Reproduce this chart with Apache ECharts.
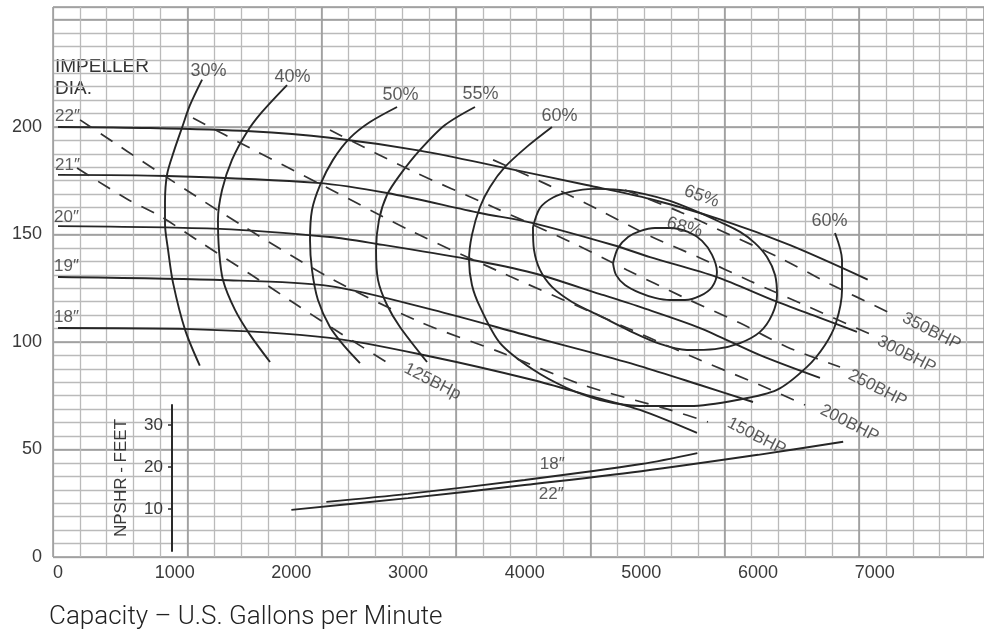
<!DOCTYPE html>
<html><head><meta charset="utf-8">
<script src="https://cdn.jsdelivr.net/npm/echarts@6/dist/echarts.min.js"></script>
<style>html,body{margin:0;padding:0;background:#fff}#c{width:984px;height:633px}</style>
</head><body><div id="c"></div>
<script>
// ---- tick labels ----
const xTicks = [0,1000,2000,3000,4000,5000,6000,7000];
const yTicks = [0,50,100,150,200];
const npshTicks = [10,20,30];

// ---- head-capacity curves by impeller diameter [gpm, ft] ----
const hq22 = [[0,200],[790,199.5],[1650,198],[2330,195],[3100,189],[3830,181],[4530,173],[5075,166.5],[5675,157],[6275,145],[6940,129]];
const hq21 = [[0,177.7],[934,177.2],[2220,174],[2820,169.3],[3617,160],[4071,155.3],[4757,145.1],[5074,139.5],[5648,130.2],[6128,119.5],[6531,111.2],[6848,104.7]];
const hq20 = [[0,153.9],[1389,152.6],[2331,148.8],[2734,145.6],[3506,138.6],[4071,132.1],[4646,122.3],[4988,116.3],[5503,106.5],[6017,93.9],[6531,83.3]];
const hq19 = [[0,130.2],[1389,128.8],[2331,126],[3214,114.9],[4071,102.3],[4560,95.3],[4988,88.8],[5503,80],[5957,72.1]];
const hq18 = [[0,106.5],[1131,106],[2331,101.9],[3214,93],[4071,82.3],[4560,74.9],[4988,68.4],[5477,57.7]];
const diaLabels = ['22\u2033','21\u2033','20\u2033','19\u2033','18\u2033'];

// ---- efficiency curves [gpm, ft] ----
const eff30 = [[1235,222],[1130,210],[1065,200],[995,189],[935,178],[917,165],[917,155],[943,143],[986,127.5],[1090,105.5],[1215,89]];
const eff40 = [[1963,219.5],[1749,207],[1620,197.7],[1491,184.7],[1406,170.7],[1371,156.7],[1380,142.8],[1414,128.8],[1517,114.9],[1646,103.3],[1817,90.7]];
const eff50 = [[2906,209.3],[2674,202.3],[2503,194.9],[2357,184.7],[2246,173],[2177,161.4],[2160,147.4],[2177,133.5],[2228,119.5],[2331,107],[2460,97.7],[2588,90.2]];
const eff55 = [[3574,209.3],[3317,200.9],[3103,189.3],[2931,177.7],[2820,168.4],[2751,156.7],[2726,142.8],[2743,128.8],[2820,117.2],[2931,107],[3163,90.7]];
const eff60 = [[4234,200],[4028,191.2],[3831,181.4],[3703,172.1],[3617,162.8],[3548,149.8],[3523,138.1],[3548,126.5],[3617,116.3],[3789,99.5],[4071,87.2],[4363,78.6],[4646,73],[4988,70.2],[5417,70.2],[5820,73],[6162,77.7],[6420,88.4],[6574,98.6],[6668,108.8],[6720,124.2],[6720,138.1],[6660,150.7]];
const eff65 = [[4071,153.5],[4131,162.3],[4243,167.2],[4388,169.8],[4585,171.2],[4817,170.7],[5031,168.8],[5246,165.6],[5443,161.4],[5674,155.8],[5846,151.2],[5974,146],[6077,139.5],[6146,131.2],[6163,121.9],[6120,112.6],[6017,104.7],[5846,99.5],[5631,96.7],[5391,96.3],[5160,99.1],[4903,105.1],[4646,112.1],[4406,118.6],[4234,125.6],[4131,133.5],[4080,142.8],[4071,153.5]];
const eff68 = [[4757,136.7],[4800,143.7],[4886,148.8],[4988,151.6],[5117,153],[5246,153],[5400,151.2],[5520,147],[5606,140.5],[5648,132.6],[5606,125.6],[5503,121.4],[5374,119.5],[5246,119.5],[5117,120.5],[4988,122.8],[4860,126.5],[4783,131.2],[4757,136.7]];

// ---- brake horsepower lines [gpm, ft] ----
const bhp125 = [[163,180.9],[591,166.5],[874,158.6],[1217,146.5],[1646,131.6],[2074,116.3],[2417,104.2],[2871,88.8]];
const bhp150 = [[189,203.3],[900,177.7],[1586,153.9],[2331,129.8],[3103,109.3],[3789,95.3],[4500,80],[5246,68.4],[5571,62.8]];
const bhp200 = [[1157,204.2],[1646,190.2],[2246,173.5],[3043,151.2],[3789,132.6],[4646,112.1],[5503,91.6],[6017,80],[6403,70.7]];
const bhp250 = [[2331,198.6],[3017,180],[3729,162.8],[4414,146],[4877,133.5],[5357,120.9],[5846,108.8],[6248,97.7],[6703,88.4]];
const bhp300 = [[3729,184.7],[4217,172.6],[4620,161.9],[5074,149.3],[5503,139.1],[5931,128.4],[6360,118.1],[6960,103.7]];
const bhp350 = [[4860,170.7],[5331,160.5],[5760,149.8],[6188,139.1],[6617,127],[7131,113.5]];
const bhpLabels = ['125BHp','150BHP','200BHP','250BHP','300BHP','350BHP'];

// ---- NPSHR curves [gpm, ft] ----
const npsh18 = [[2300,11.7],[3000,13.6],[4000,16.9],[5000,20.7],[5480,23.3]];
const npsh22 = [[2000,9.8],[3000,12.6],[4000,15.7],[5000,19.0],[6000,22.9],[6730,26.0]];

// ================= chart =================
const FONT = 'Liberation Sans';
const TXT = '#333';
const chart = echarts.init(document.getElementById('c'), null, {renderer:'canvas'});

function curve(data, dashed) {
  return {
    type:'line', data, showSymbol:false, smooth:0.3, silent:true, z:3,
    xAxisIndex:0, yAxisIndex:0,
    lineStyle: dashed ? {color:'#333', width:1.7, type:[14,11]} : {color:'#262626', width:1.9}
  };
}
function lab(pt, text, dx, dy, rot, size) {
  return {value: pt, label:{show:true, formatter:text, position:[dx,dy], align:'center', verticalAlign:'middle', rotate: rot || 0, fontSize: size || 18}};
}

const hqs = [hq22, hq21, hq20, hq19, hq18];
const bhps = [bhp125, bhp150, bhp200, bhp250, bhp300, bhp350];
const bhpOff = [[40,16],[49,15],[45,19],[38,22],[37,21],[42,19]];
const diaOff = [[10,-10],[10,-9],[9,-8],[9,-10],[9,-10]];

const annot = [];
hqs.forEach((d,i)=>annot.push(lab(d[0], diaLabels[i], diaOff[i][0], diaOff[i][1], 0, 17)));
annot.push(lab(eff30[0], '30%', 7, -8));
annot.push(lab(eff40[0], '40%', 6, -8));
annot.push(lab(eff50[0], '50%', 4, -11));
annot.push(lab(eff55[0], '55%', 6, -12));
annot.push(lab(eff60[0], '60%', 8, -10));
annot.push(lab(eff60[eff60.length-1], '60%', -5, -11));
annot.push(lab(eff65[8], '65%', 9, -13, -20));
annot.push(lab(eff68[6], '68%', -3, -4, -15));
bhps.forEach((d,i)=>annot.push(lab(d[d.length-1], bhpLabels[i], bhpOff[i][0], bhpOff[i][1], -27, 17)));

const npshAnnot = [lab(npsh18[2], '18\u2033', 28, -15, 0, 17), lab(npsh22[2], '22\u2033', 27, 10, 0, 17)];

const hidden = {axisLine:{show:false}, axisTick:{show:false}, axisLabel:{show:false}};
const minorLine = {show:true, lineStyle:{color:'#bababa', width:1.3}};
const majorLine = {show:true, lineStyle:{color:'#999999', width:1.5}};
const plain = v => String(v);

const option = {
  animation:false,
  backgroundColor:'#fff',
  title:{text:'Capacity \u2013 U.S. Gallons per Minute', left:44, top:599,
    textStyle:{fontFamily:'Roboto', fontWeight:300, fontSize:26, color:'#222'}},
  graphic:[{type:'text', left:55, top:56, style:{text:'IMPELLER\nDIA.', font:'19px "Liberation Sans"', lineHeight:22, fill:TXT}}],
  grid:[
    {left:53, right:0, top:7, bottom:76, outerBoundsMode:'none', containLabel:false},
    {left:172, right:0, top:405, bottom:82, outerBoundsMode:'none', containLabel:false}
  ],
  xAxis:[
    {type:'value', gridIndex:0, min:-43, max:7937, axisLine:{show:false}, axisTick:{show:false}, splitLine:{show:false},
      axisLabel:{customValues:xTicks, formatter:plain, margin:7, fontSize:18, fontFamily:FONT, color:'#3a3a3a'}},
    Object.assign({type:'value', gridIndex:0, min:0, max:34.65, interval:1, splitLine:minorLine}, hidden),
    Object.assign({type:'value', gridIndex:0, min:0, max:6.93, interval:1, splitLine:majorLine}, hidden),
    {type:'value', gridIndex:1, min:977, max:7937, show:false}
  ],
  yAxis:[
    {type:'value', gridIndex:0, min:0, max:255.8, axisLine:{show:false}, axisTick:{show:false}, splitLine:{show:false},
      axisLabel:{customValues:yTicks, formatter:plain, margin:11, fontSize:18, fontFamily:FONT, color:'#3a3a3a'}},
    Object.assign({type:'value', gridIndex:0, min:0, max:40.93, interval:1, splitLine:minorLine}, hidden),
    Object.assign({type:'value', gridIndex:0, min:0, max:5.116, interval:1, splitLine:majorLine}, hidden),
    {type:'value', gridIndex:1, min:0, max:34.76, splitLine:{show:false},
      axisLine:{show:true, lineStyle:{color:'#2a2a2a', width:2}},
      axisTick:{show:true, customValues:npshTicks, length:4, lineStyle:{color:'#2a2a2a', width:1.5}},
      axisLabel:{customValues:npshTicks, formatter:plain, margin:9, fontSize:17, fontFamily:FONT, color:'#3a3a3a'},
      name:'NPSHR - FEET', nameLocation:'middle', nameGap:42, nameRotate:90,
      nameTextStyle:{fontSize:17, fontFamily:FONT, color:'#3a3a3a'}}
  ],
  series:[
    ...hqs.map(d=>curve(d,false)),
    ...[eff30,eff40,eff50,eff55,eff60,eff65,eff68].map(d=>curve(d,false)),
    ...bhps.map(d=>curve(d,true)),
    {type:'line', xAxisIndex:3, yAxisIndex:3, data:npsh18, showSymbol:false, smooth:0.3, silent:true, lineStyle:{color:'#262626', width:1.9}},
    {type:'line', xAxisIndex:3, yAxisIndex:3, data:npsh22, showSymbol:false, smooth:0.3, silent:true, lineStyle:{color:'#262626', width:1.9}},
    {type:'scatter', xAxisIndex:0, yAxisIndex:0, symbolSize:1, itemStyle:{color:'rgba(0,0,0,0)'}, silent:true, z:5,
      label:{show:true, color:TXT, fontFamily:FONT}, data:annot},
    {type:'scatter', xAxisIndex:3, yAxisIndex:3, symbolSize:1, itemStyle:{color:'rgba(0,0,0,0)'}, silent:true, z:5,
      label:{show:true, color:TXT, fontFamily:FONT}, data:npshAnnot}
  ]
};
chart.setOption(option);
</script>
</body></html>
